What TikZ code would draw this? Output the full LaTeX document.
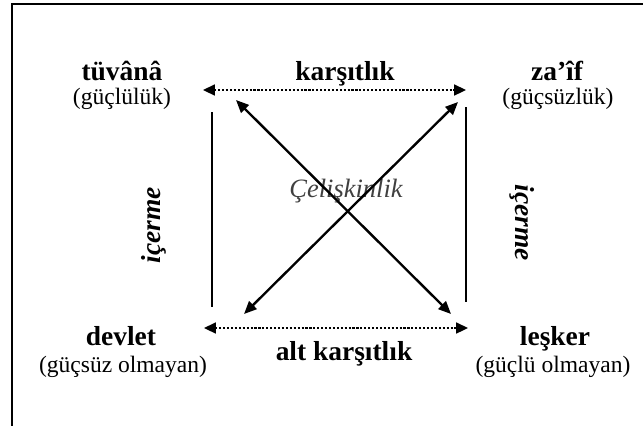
\documentclass[tikz,border=0pt]{standalone}
\usepackage{fontspec}
\setmainfont{Liberation Serif}
\usetikzlibrary{arrows.meta,positioning}

\begin{document}
\begin{tikzpicture}[
  x=0.51pt, y=-0.51pt,
  every node/.style={inner sep=0pt},
  term/.style={font=\fontsize{14}{16}\selectfont\bfseries, anchor=base},
  gloss/.style={font=\fontsize{12}{14}\selectfont, anchor=base},
  rel/.style={font=\fontsize{14}{16}\selectfont\bfseries\itshape},
  contra/.style={font=\fontsize{13.5}{15}\selectfont\itshape, color=black!75},
  opp/.style={{Triangle[length=6pt,width=5.5pt]}-{Triangle[length=6pt,width=5.5pt]},
              line width=1.1pt, dash pattern=on 1.1pt off 0.9pt},
  cross/.style={{Triangle[length=6.5pt,width=5.5pt]}-{Triangle[length=6.5pt,width=5.5pt]},
              line width=1.2pt},
  impl/.style={line width=0.7pt},
  frame/.style={line width=1.2pt}
]
\useasboundingbox (0,0) rectangle (643,425);

% frame, cut off at the right and at the bottom
\draw[frame] (12,430) -- (12,4) -- (650,4);

% corner terms
\node[term]  (tuvana)   at (122,80)  {tüvânâ};
\node[gloss] (tuvana-g) at (122,104) {(güçlülük)};
\node[term]  (zaif)     at (557,80)  {za’îf};
\node[gloss] (zaif-g)   at (558,104) {(güçsüzlük)};
\node[term]  (devlet)   at (121,345) {devlet};
\node[gloss] (devlet-g) at (123,372) {(güçsüz olmayan)};
\node[term]  (lesker)   at (555,345) {leşker};
\node[gloss] (lesker-g) at (553,372) {(güçlü olmayan)};

% arrow ends
\coordinate (opp-l)  at (203,90);
\coordinate (opp-r)  at (466,90);
\coordinate (sub-l)  at (204,328);
\coordinate (sub-r)  at (468,328);
\coordinate (c1-a)   at (236,100);
\coordinate (c1-b)   at (451,314);
\coordinate (c2-a)   at (458,102);
\coordinate (c2-b)   at (244,314);
\coordinate (il-top) at (212,112);
\coordinate (il-bot) at (212,307);
\coordinate (ir-top) at (466,107);
\coordinate (ir-bot) at (466,302);

% relations
\node[term] (kars)    at (345,80)  {karşıtlık};
\node[term] (altkars) at (344,360) {alt karşıtlık};
\node[contra] (celis) at (346,191) {Çelişkinlik};
\node[rel, rotate=90]  (icerme-l) at (154,225) {içerme};
\node[rel, rotate=-90] (icerme-r) at (522,223) {içerme};

\draw[opp] (opp-l) -- (opp-r);
\draw[opp] (sub-l) -- (sub-r);
\draw[cross] (c1-a) -- (c1-b);
\draw[cross] (c2-a) -- (c2-b);
\draw[impl] (il-top) -- (il-bot);
\draw[impl] (ir-top) -- (ir-bot);
\end{tikzpicture}
\end{document}
